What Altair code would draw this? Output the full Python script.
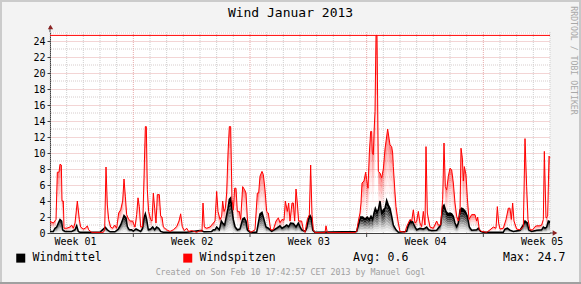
import json
import altair as alt
import pandas as pd

# ---------------- data ----------------
red_day = [0, 0.2, 0.36, 0.44, 0.54, 0.6, 0.68, 0.72, 0.8, 0.84, 1.0, 1.2, 1.3, 1.4, 1.5, 1.64, 1.76, 1.84,
           2.0, 2.12, 2.24, 2.32, 2.5, 3.2, 3.28, 3.36, 3.44, 3.52, 3.64, 3.76, 3.88, 4.0, 4.12, 4.24, 4.36,
           4.44, 4.52, 4.6, 4.72, 4.84, 4.96, 5.1, 5.2, 5.28, 5.36, 5.44, 5.56, 5.64, 5.72, 5.78, 5.84, 5.92,
           6.04, 6.12, 6.2, 6.28, 6.36, 6.44, 6.56, 6.64, 6.72, 6.8, 7.0, 7.2, 7.4, 7.6, 7.74, 7.84, 7.94,
           8.06, 8.2, 8.32, 8.5, 8.8, 9.0, 9.12, 9.18, 9.26, 9.4, 9.6, 9.8, 9.9, 10.0, 10.08, 10.2, 10.3,
           10.36, 10.44, 10.52, 10.6, 10.68, 10.76, 10.84, 10.92, 11.0, 11.08, 11.16, 11.24, 11.36, 11.44,
           11.56, 11.68, 11.76, 11.84, 11.92, 12.04, 12.3, 12.44, 12.52, 12.6, 12.72, 12.8, 12.9, 13.0, 13.1,
           13.24, 13.4, 13.56, 13.7, 13.8, 13.92, 14.04, 14.12, 14.24, 14.32, 14.4, 14.52, 14.6, 14.68, 14.76,
           14.84, 14.92, 15.1, 15.2, 15.3, 15.44, 15.56, 15.64, 15.72, 15.8, 15.9, 16.5, 16.56, 16.64, 18.3,
           18.4, 18.5, 18.6, 18.66, 18.72, 18.84, 18.94, 19.0, 19.08, 19.16, 19.24, 19.3, 19.34, 19.4, 19.44,
           19.5, 19.56, 19.62, 19.7, 19.8, 19.9, 20.0, 20.1, 20.26, 20.4, 20.5, 20.56, 20.6, 20.7, 20.76,
           20.84, 20.9, 21.0, 21.3, 21.4, 21.6, 21.7, 21.8, 21.9, 22.0, 22.1, 22.2, 22.3, 22.4, 22.5, 22.56,
           22.64, 22.8, 23.0, 23.2, 23.3, 23.44, 23.56, 23.64, 23.72, 23.8, 23.9, 24.0, 24.1, 24.2, 24.3,
           24.4, 24.5, 24.6, 24.66, 24.74, 24.8, 24.86, 24.96, 25.04, 25.14, 25.3, 25.5, 25.6, 25.66, 25.76,
           25.9, 26.2, 26.4, 26.6, 26.76, 26.84, 26.92, 27.0, 27.2, 27.36, 27.5, 27.6, 27.68, 27.76, 27.84,
           28.0, 28.2, 28.4, 28.5, 28.6, 28.68, 28.8, 28.96, 29.1, 29.2, 29.36, 29.5, 29.6, 29.66, 29.76,
           29.86, 29.94, 30.0]
red_val = [1.46, 1.25, 1.7, 7.6, 7.6, 8.6, 8.5, 4.0, 4.0, 0.6, 0.6, 0.75, 1.0, 0.6, 1.25, 4.0, 1.7, 0.75,
           0.5, 0.6, 0.9, 0.4, 0.08, 0.08, 0.4, 8.25, 3.5, 1.7, 0.75, 0.6, 1.0, 0.6, 2.5, 2.9, 4.0,
           6.75, 4.6, 2.3, 1.7, 1.5, 1.5, 0.75, 2.3, 4.4, 3.3, 0.75, 0.8, 6.9, 13.3, 13.3, 5.4, 2.7,
           1.7, 1.5, 5.0, 3.1, 1.25, 4.8, 4.8, 2.1, 2.0, 0.75, 0.4, 0.2, 0.4, 0.8, 1.5, 2.4, 0.8,
           0.3, 0.6, 0.2, 0.3, 0.08, 0.3, 0.2, 3.75, 0.75, 0.6, 0.75, 1.25, 1.5, 5.2, 2.7, 1.7, 2.1,
           4.0, 2.7, 3.1, 5.0, 10.0, 13.3, 13.3, 4.2, 2.9, 5.6, 5.6, 2.7, 2.7, 1.7,
           5.8, 5.4, 5.0, 1.9, 0.4, 0.08, 0.4, 5.0, 5.0, 7.1, 7.7, 7.3, 5.4, 2.7, 2.5,
           0.4, 0.4, 1.5, 1.9, 1.3, 1.7, 1.6, 4.0, 2.7, 3.75, 1.5, 3.75, 3.75, 1.5, 5.5,
           3.75, 1.5, 1.5, 0.4, 0.08, 1.7, 2.3, 8.5, 2.3, 0.4, 0.05, 0.05, 0.9, 0.05, 0.05,
           0.2, 1.5, 2.5, 3.75, 6.25, 6.5, 7.6, 6.7, 5.6, 10.0, 12.7, 12.7, 10.0, 9.8, 12.5,
           15.2, 24.7, 24.7, 7.7, 7.5, 6.9, 8.0, 10.5, 13.0, 11.0, 10.8, 10.0, 8.3, 5.0, 3.3,
           2.1, 1.25, 0.2, 0.1, 0.8, 1.7, 1.5, 2.9, 1.25, 1.5, 2.7, 1.25, 0.8, 2.7, 1.0, 10.8,
           2.5, 0.75, 0.6, 1.5, 1.0, 1.0, 4.2, 11.25, 5.8, 5.4, 7.1, 8.1, 7.9, 6.25, 3.75,
           2.1, 1.5, 2.5, 10.6, 9.4, 6.5, 8.3, 7.3, 4.4, 1.7, 2.3, 2.3, 1.5, 2.0, 0.4,
           0.2, 0.08, 0.4, 0.75, 0.6, 3.3, 1.25, 0.5, 0.6, 1.7, 3.1, 3.1, 1.7, 3.75, 1.5,
           0.5, 0.4, 0.8, 11.8, 5.8, 1.7, 0.4, 0.4, 0.8, 0.9, 0.9, 1.0, 1.7, 10.2, 1.9,
           2.1, 9.6, 9.4]

black_day = [0, 0.2, 0.3, 0.4, 0.5, 0.6, 0.7, 0.76, 0.9, 1.3, 1.5, 1.6, 1.7, 1.8, 3.0, 3.1, 3.2, 3.32, 3.44,
             3.6, 3.9, 4.1, 4.24, 4.36, 4.44, 4.56, 4.64, 4.76, 4.9, 5.0, 5.16, 5.3, 5.44, 5.56, 5.64, 5.72,
             5.8, 5.9, 6.04, 6.16, 6.28, 6.4, 6.52, 6.64, 6.8, 8.2, 9.0, 9.1, 9.24, 9.7, 9.8, 9.9, 10.0,
             10.16, 10.28, 10.36, 10.48, 10.6, 10.68, 10.76, 10.84, 10.92, 11.0, 11.1, 11.24, 11.4, 11.56,
             11.66, 11.76, 11.84, 12.0, 12.4, 12.5, 12.6, 12.72, 12.84, 12.96, 13.1, 13.3, 13.6, 13.8, 13.92,
             14.04, 14.2, 14.32, 14.44, 14.6, 14.76, 14.9, 15.0, 15.1, 15.3, 15.4, 15.5, 15.6, 15.68, 15.76,
             15.9, 18.4, 18.5, 18.64, 18.76, 18.9, 19.04, 19.16, 19.26, 19.36, 19.44, 19.52, 19.6, 19.7,
             19.8, 19.9, 20.0, 20.1, 20.2, 20.3, 20.4, 20.5, 20.6, 20.76, 20.9, 21.4, 21.5, 21.64, 21.76,
             21.9, 22.0, 22.2, 22.4, 22.5, 22.6, 22.72, 22.9, 23.2, 23.44, 23.56, 23.64, 23.76, 23.88, 24.0,
             24.1, 24.2, 24.3, 24.4, 24.5, 24.6, 24.7, 24.8, 24.92, 25.04, 25.16, 25.3, 25.6, 25.7, 25.84,
             26.0, 27.2, 27.3, 27.44, 27.6, 27.8, 28.2, 28.4, 28.5, 28.64, 28.72, 28.9, 29.2, 29.5, 29.6,
             29.7, 29.8, 29.9, 30.0]
black_val = [0.2, 0.2, 0.6, 0.75, 1.25, 1.7, 1.5, 0.4, 0.2, 0.2, 0.4, 0.9, 0.2, 0.08, 0.08, 0.3, 0.5, 0.7, 0.4,
             0.15, 0.15, 0.5, 1.0, 1.7, 2.2, 1.9, 0.8, 0.4, 0.4, 0.25, 0.5, 0.35, 0.2, 0.6, 1.9, 2.4,
             1.7, 0.4, 0.5, 0.75, 0.4, 0.75, 0.6, 0.2, 0.1, 0.1, 0.3, 0.3, 0.15, 0.2, 0.4, 0.4, 0.75,
             0.4, 1.5, 1.25, 1.0, 2.3, 3.1, 4.2, 4.4, 2.9, 1.7, 0.8, 0.4, 0.5, 1.75,
             1.9, 1.5, 0.4, 0.1, 0.1, 1.25, 2.4, 2.6, 1.7, 0.75, 0.6, 0.2, 0.6, 0.9, 0.6,
             0.75, 1.0, 0.8, 1.25, 1.2, 0.75, 1.25, 0.8, 0.4, 0.2, 0.6, 1.7, 2.2, 1.9, 0.4,
             0.08, 0.2, 1.0, 2.0, 2.0, 1.75, 2.0, 1.7, 2.1, 1.7, 2.5, 3.1, 2.7, 2.9,
             4.0, 2.5, 2.9, 3.1, 4.1, 3.5, 3.1, 2.1, 1.0, 0.4, 0.1, 0.2, 1.0, 1.5, 1.4,
             0.75, 0.4, 0.6, 0.5, 0.6, 0.75, 0.4, 0.3, 0.35, 1.0, 3.3, 3.5, 2.7, 2.4, 2.5,
             2.4, 2.1, 1.25, 0.8, 1.25, 2.9, 3.1, 3.0, 2.7, 2.1, 0.75, 0.35, 0.4, 0.6, 0.2,
             0.1, 0.1, 0.5, 0.6, 0.35, 0.2, 0.35, 1.0, 1.5, 1.25, 0.4, 0.2, 0.35, 0.4, 0.75,
             0.6, 0.75, 1.5, 1.4]

series_names = ["Windmittel", "Windspitzen"]
series_colors = ["#000000", "#FF0000"]
max_value = [24.7]
avg_text = "Avg: 0.6"
max_text = "Max: 24.7"
title_text = "Wind Januar 2013"
footer_text = "Created on Son Feb 10 17:42:57 CET 2013 by Manuel Gogl"
side_text = "RRDTOOL / TOBI OETIKER"

y_major = list(range(0, 25, 2))
y_minor = list(range(1, 26, 2))
x_major = [5, 12, 19, 26]
x_minor = [d for d in range(0, 31) if d not in x_major]
week_days = [1.5, 8.5, 15.5, 22.5, 29.5]
week_labels = ["Week 01", "Week 02", "Week 03", "Week 04", "Week 05"]

# ---------------- chart ----------------
W, H = 500, 201
XMAX, YMAX = 30.0, 25.125
MONO = "DejaVu Sans Mono"

df = pd.concat([
    pd.DataFrame({"day": black_day, "value": black_val, "series": series_names[0]}),
    pd.DataFrame({"day": red_day, "value": red_val, "series": series_names[1]}),
], ignore_index=True)

xs = alt.Scale(domain=[0, XMAX], nice=False, zero=False)
ys = alt.Scale(domain=[0, YMAX], nice=False)

label_expr = f"{json.dumps(week_labels)}[indexof({json.dumps(week_days)}, datum.value)]"
x_axis = alt.Axis(values=week_days, labelExpr=label_expr, ticks=False, grid=False, title=None,
                  domainColor="#404040", labelFont=MONO, labelFontSize=10, labelColor="#000000",
                  labelPadding=3, labelFlush=False, labelBound=False, labelOverlap=False)
y_axis = alt.Axis(values=y_major, format="d", title=None, grid=True, gridColor="#E6AAAA",
                  gridDash=[1, 1], tickSize=3, tickColor="#404040", domainColor="#404040",
                  labelFont=MONO, labelFontSize=10, labelColor="#000000", labelPadding=2)


def X(field):
    return alt.X(field, type="quantitative", scale=xs, axis=x_axis)


def Y(field):
    return alt.Y(field, type="quantitative", scale=ys, axis=y_axis, stack=None)


def dummy():
    return alt.Chart(alt.Data(values=[{}]))


layers = []

# minor grid
layers.append(alt.Chart(pd.DataFrame({"g": x_minor})).mark_rule(color="#CFCFCF", strokeDash=[1, 1], strokeWidth=1)
              .encode(x=X("g")))
layers.append(alt.Chart(pd.DataFrame({"g": y_minor})).mark_rule(color="#D6CCCC", strokeDash=[1, 1], strokeWidth=1)
              .encode(y=Y("g")))
# major vertical grid
layers.append(alt.Chart(pd.DataFrame({"g": x_major})).mark_rule(color="#E6AAAA", strokeDash=[1, 1], strokeWidth=1)
              .encode(x=X("g")))


def band(series, f_lo, f_hi, color, opacity):
    return (alt.Chart(df)
            .transform_filter(alt.datum.series == series)
            .transform_calculate(lo=f"datum.value*{f_lo}", hi=f"datum.value*{f_hi}")
            .mark_area(color=color, opacity=opacity)
            .encode(x=X("day"), y=Y("hi"), y2=alt.Y2("lo")))


# red gradient under the peak line
red_bands = [(0.9, 1.0, 0.5), (0.8, 0.9, 0.36), (0.7, 0.8, 0.25), (0.6, 0.7, 0.16), (0.5, 0.6, 0.09),
             (0.4, 0.5, 0.04)]
for lo, hi, op in red_bands:
    layers.append(band(series_names[1], lo, hi, "#FF0000", op))

# black/grey gradient of the mean area
black_bands = [(0.85, 1.0, "#000000"), (0.75, 0.85, "#222222"), (0.65, 0.75, "#444444"), (0.55, 0.65, "#666666"),
               (0.45, 0.55, "#888888"), (0.35, 0.45, "#A6A6A6"), (0.25, 0.35, "#C2C2C2"), (0.15, 0.25, "#DADADA"),
               (0.05, 0.15, "#ECECEC")]
for lo, hi, c in black_bands:
    layers.append(band(series_names[0], lo, hi, c, 1))

# lines
layers.append(alt.Chart(df).transform_filter(alt.datum.series == series_names[0])
              .mark_line(color="#000000", strokeWidth=1.5).encode(x=X("day"), y=Y("value")))
layers.append(alt.Chart(df).transform_filter(alt.datum.series == series_names[1])
              .mark_line(color="#FF0000", strokeWidth=1).encode(x=X("day"), y=Y("value")))

# max rule
layers.append(alt.Chart(pd.DataFrame({"m": max_value})).mark_rule(color="#FF0000", strokeWidth=1)
              .encode(y=Y("m")))

# legend carrier (no marks drawn, only the legend)
layers.append(alt.Chart(df).transform_filter("false").mark_square(filled=True, opacity=1)
              .encode(x=X("day"), y=Y("value"),
                      color=alt.Color("series:N", scale=alt.Scale(domain=series_names, range=series_colors),
                                      legend=alt.Legend(title=None, orient="none", legendX=-35, legendY=220,
                                                        direction="horizontal", symbolType="square",
                                                        symbolSize=81, symbolStrokeWidth=0, symbolOpacity=1,
                                                        labelFont=MONO, labelFontSize=11.5,
                                                        labelColor="#000000", labelOffset=6,
                                                        columnPadding=80, padding=0))))

# x-axis major ticks and arrows
layers.append(alt.Chart(pd.DataFrame({"g": x_major})).mark_rule(color="#404040")
              .encode(x=X("g"), y=alt.value(H), y2=alt.value(H + 4)))
layers.append(dummy().mark_rule(color="#404040").encode(x=alt.value(0), y=alt.value(-6), y2=alt.value(0)))
layers.append(dummy().mark_rule(color="#404040").encode(x=alt.value(W), x2=alt.value(W + 6), y=alt.value(H)))
layers.append(dummy().mark_point(shape="triangle-up", filled=True, size=28, color="#8B2323", opacity=1)
              .encode(x=alt.value(0.5), y=alt.value(-5)))
layers.append(dummy().mark_point(shape="triangle-right", filled=True, size=28, color="#8B2323", opacity=1)
              .encode(x=alt.value(W + 5), y=alt.value(H)))

# texts
layers.append(dummy().mark_text(text=title_text, font=MONO, fontSize=13, color="#000000", align="center",
                                baseline="middle").encode(x=alt.value(240.5), y=alt.value(-19)))
layers.append(dummy().mark_text(text=avg_text, font=MONO, fontSize=11.5, color="#000000", align="left",
                                baseline="middle").encode(x=alt.value(303), y=alt.value(226)))
layers.append(dummy().mark_text(text=max_text, font=MONO, fontSize=11.5, color="#000000", align="left",
                                baseline="middle").encode(x=alt.value(453), y=alt.value(226)))
layers.append(dummy().mark_text(text=footer_text, font=MONO, fontSize=8.3, color="#A0A0A0", align="center",
                                baseline="middle").encode(x=alt.value(240.5), y=alt.value(241)))
layers.append(dummy().mark_text(text=side_text, font=MONO, fontSize=8.2, color="#A8A8A8", align="center",
                                baseline="middle", angle=90).encode(x=alt.value(522.5), y=alt.value(28.5)))

# 3D frame
layers.append(dummy().mark_rule(color="#CBCBCB", strokeWidth=2).encode(x=alt.value(-50), x2=alt.value(531), y=alt.value(-31)))
layers.append(dummy().mark_rule(color="#CBCBCB", strokeWidth=2).encode(x=alt.value(-49), y=alt.value(-32), y2=alt.value(252)))
layers.append(dummy().mark_rule(color="#C8C8C8", strokeWidth=2).encode(x=alt.value(530), y=alt.value(-32), y2=alt.value(252)))
layers.append(dummy().mark_rule(color="#A0A0A0", strokeWidth=2).encode(x=alt.value(-50), x2=alt.value(531), y=alt.value(251)))

chart = (alt.layer(*layers)
         .properties(width=W, height=H, background="#F3F3F3",
                     padding={"left": 50, "top": 32, "right": 31, "bottom": 51},
                     autosize=alt.AutoSizeParams(type="none"))
         .configure_view(stroke=None, fill="#FFFFFF"))

chart.save("out.html", embed_options={"renderer": "svg", "actions": False})
